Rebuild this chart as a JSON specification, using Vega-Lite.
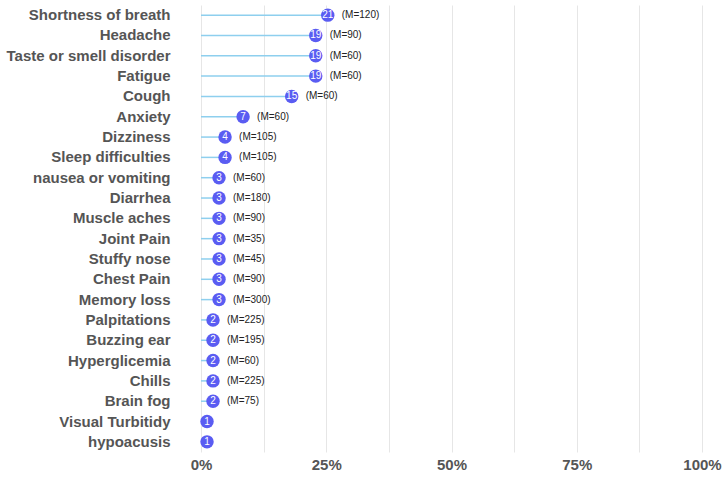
{
  "$schema": "https://vega.github.io/schema/vega-lite/v6.json",
  "width": 501,
  "height": 447,
  "autosize": {"type": "none"},
  "padding": {"left": 201, "top": 5, "right": 23, "bottom": 26},
  "background": "white",
  "config": {"view": {"stroke": null}, "font": "Liberation Sans"},
  "data": {"values": [
    {"symptom": "Shortness of breath", "count": 21, "pct": 0.253, "m": "(M=120)"},
    {"symptom": "Headache", "count": 19, "pct": 0.229, "m": "(M=90)"},
    {"symptom": "Taste or smell disorder", "count": 19, "pct": 0.229, "m": "(M=60)"},
    {"symptom": "Fatigue", "count": 19, "pct": 0.229, "m": "(M=60)"},
    {"symptom": "Cough", "count": 15, "pct": 0.181, "m": "(M=60)"},
    {"symptom": "Anxiety", "count": 7, "pct": 0.084, "m": "(M=60)"},
    {"symptom": "Dizziness", "count": 4, "pct": 0.048, "m": "(M=105)"},
    {"symptom": "Sleep difficulties", "count": 4, "pct": 0.048, "m": "(M=105)"},
    {"symptom": "nausea or vomiting", "count": 3, "pct": 0.036, "m": "(M=60)"},
    {"symptom": "Diarrhea", "count": 3, "pct": 0.036, "m": " (M=180)"},
    {"symptom": "Muscle aches", "count": 3, "pct": 0.036, "m": "(M=90)"},
    {"symptom": "Joint Pain", "count": 3, "pct": 0.036, "m": "(M=35)"},
    {"symptom": "Stuffy nose", "count": 3, "pct": 0.036, "m": "(M=45)"},
    {"symptom": "Chest Pain", "count": 3, "pct": 0.036, "m": "(M=90)"},
    {"symptom": "Memory loss", "count": 3, "pct": 0.036, "m": " (M=300)"},
    {"symptom": "Palpitations", "count": 2, "pct": 0.024, "m": " (M=225)"},
    {"symptom": "Buzzing ear", "count": 2, "pct": 0.024, "m": " (M=195)"},
    {"symptom": "Hyperglicemia", "count": 2, "pct": 0.024, "m": "(M=60)"},
    {"symptom": "Chills", "count": 2, "pct": 0.024, "m": " (M=225)"},
    {"symptom": "Brain fog", "count": 2, "pct": 0.024, "m": "(M=75)"},
    {"symptom": "Visual Turbitidy", "count": 1, "pct": 0.012, "m": ""},
    {"symptom": "hypoacusis", "count": 1, "pct": 0.012, "m": ""}
  ]},
  "encoding": {
    "y": {
      "field": "symptom", "type": "nominal", "sort": null, "title": null,
      "axis": {"domain": false, "ticks": false, "labelFontSize": 15, "labelFontWeight": "bold", "labelColor": "#555555", "labelPadding": 31, "labelLimit": 300}
    },
    "x": {
      "field": "pct", "type": "quantitative",
      "scale": {"domain": [0, 1]},
      "title": null,
      "axis": {
        "values": [0, 0.125, 0.25, 0.375, 0.5, 0.625, 0.75, 0.875, 1],
        "labelExpr": "(round(datum.value*1000) % 250 == 0) ? format(datum.value, '.0%') : ''",
        "labelFlush": false,
        "domain": false, "ticks": false, "grid": true, "gridColor": "#e6e6e6", "gridWidth": 1,
        "labelFontSize": 15, "labelFontWeight": "bold", "labelColor": "#555555", "labelPadding": 5
      }
    }
  },
  "layer": [
    {
      "mark": {"type": "rule", "color": "#8ecfee", "strokeWidth": 1.5},
      "encoding": {"x2": {"datum": 0}}
    },
    {
      "mark": {"type": "circle", "color": "#5a5cf2", "opacity": 1, "size": 180},
      "encoding": {}
    },
    {
      "mark": {"type": "text", "color": "white", "fontSize": 10, "align": "center", "baseline": "middle"},
      "encoding": {"text": {"field": "count"}}
    },
    {
      "mark": {"type": "text", "color": "#222222", "fontSize": 10, "align": "left", "baseline": "middle", "dx": 14},
      "encoding": {"text": {"field": "m"}}
    }
  ]
}
